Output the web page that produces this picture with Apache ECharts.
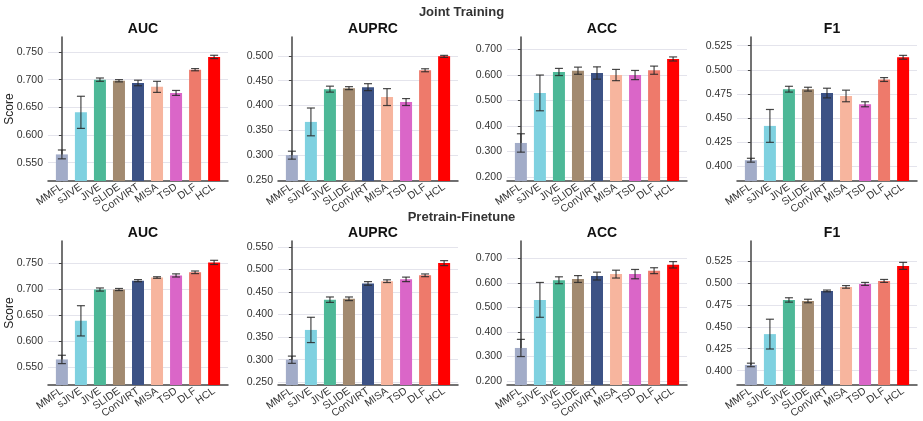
<!DOCTYPE html>
<html>
<head>
<meta charset="utf-8">
<script src="https://cdn.jsdelivr.net/npm/echarts@6/dist/echarts.min.js"></script>
<style>
  html, body { margin: 0; padding: 0; background: #fff; }
  #main { width: 923px; height: 421px; }
</style>
</head>
<body>
<div id="main"></div>
<script>
// methods and colours
const methods = ['MMFL', 'sJIVE', 'JIVE', 'SLIDE', 'ConVIRT', 'MISA', 'TSD', 'DLF', 'HCL'];
const barColors = ['#a2acc8', '#7fd1e0', '#4db897', '#a28a70', '#3c5285', '#f7b59e', '#da66c8', '#ee7a6b', '#ff0000'];

// Joint Training
const jtAUC = [0.565, 0.641, 0.700, 0.698, 0.694, 0.687, 0.676, 0.718, 0.741];
const jtAUCErr = [0.008, 0.029, 0.003, 0.002, 0.005, 0.010, 0.0045, 0.002, 0.003];
const jtAUPRC = [0.300, 0.367, 0.433, 0.435, 0.437, 0.417, 0.407, 0.471, 0.499];
const jtAUPRCErr = [0.008, 0.028, 0.006, 0.003, 0.007, 0.017, 0.007, 0.003, 0.002];
const jtACC = [0.333, 0.529, 0.611, 0.616, 0.607, 0.599, 0.599, 0.618, 0.662];
const jtACCErr = [0.036, 0.070, 0.014, 0.014, 0.024, 0.022, 0.018, 0.016, 0.008];
const jtF1 = [0.4065, 0.442, 0.480, 0.480, 0.476, 0.473, 0.4644, 0.490, 0.513];
const jtF1Err = [0.002, 0.017, 0.003, 0.002, 0.005, 0.006, 0.0026, 0.002, 0.002];

// Pretrain-Finetune
const pfAUC = [0.565, 0.639, 0.699, 0.699, 0.716, 0.722, 0.726, 0.732, 0.751];
const pfAUCErr = [0.008, 0.029, 0.003, 0.002, 0.002, 0.0015, 0.003, 0.0025, 0.004];
const pfAUPRC = [0.300, 0.366, 0.433, 0.435, 0.469, 0.474, 0.478, 0.487, 0.514];
const pfAUPRCErr = [0.008, 0.028, 0.006, 0.004, 0.004, 0.003, 0.005, 0.003, 0.0055];
const pfACC = [0.335, 0.531, 0.611, 0.616, 0.628, 0.636, 0.636, 0.650, 0.674];
const pfACCErr = [0.035, 0.071, 0.014, 0.014, 0.016, 0.016, 0.019, 0.012, 0.013];
const pfF1 = [0.4065, 0.4417, 0.4807, 0.4795, 0.491, 0.4956, 0.499, 0.5024, 0.5196];
const pfF1Err = [0.002, 0.017, 0.0025, 0.002, 0.001, 0.0015, 0.0017, 0.0017, 0.004];

// tick labels
const ticksAUC = [0.55, 0.60, 0.65, 0.70, 0.75];
const ticksAUPRCTop = [0.25, 0.30, 0.35, 0.40, 0.45, 0.50];
const ticksAUPRCBot = [0.25, 0.30, 0.35, 0.40, 0.45, 0.50, 0.55];
const ticksACC = [0.2, 0.3, 0.4, 0.5, 0.6, 0.7];
const ticksF1 = [0.400, 0.425, 0.450, 0.475, 0.500, 0.525];

const FONT = 'Liberation Sans, Arial, sans-serif';

// panel list: title, values, errors, y range, ticks, row, col
const panels = [
  {title: 'AUC', v: jtAUC, e: jtAUCErr, min: 0.517, max: 0.777, ticks: ticksAUC, row: 0, col: 0},
  {title: 'AUPRC', v: jtAUPRC, e: jtAUPRCErr, min: 0.248, max: 0.538, ticks: ticksAUPRCTop, row: 0, col: 1},
  {title: 'ACC', v: jtACC, e: jtACCErr, min: 0.184, max: 0.748, ticks: ticksACC, row: 0, col: 2},
  {title: 'F1', v: jtF1, e: jtF1Err, min: 0.385, max: 0.534, ticks: ticksF1, row: 0, col: 3},
  {title: 'AUC', v: pfAUC, e: pfAUCErr, min: 0.516, max: 0.792, ticks: ticksAUC, row: 1, col: 0},
  {title: 'AUPRC', v: pfAUPRC, e: pfAUPRCErr, min: 0.244, max: 0.563, ticks: ticksAUPRCBot, row: 1, col: 1},
  {title: 'ACC', v: pfACC, e: pfACCErr, min: 0.184, max: 0.771, ticks: ticksACC, row: 1, col: 2},
  {title: 'F1', v: pfF1, e: pfF1Err, min: 0.3836, max: 0.548, ticks: ticksF1, row: 1, col: 3}
];

const colLeft = [48, 278, 507, 737];
const rowTop = [37, 241];
const plotW = 180, plotH = 144;
const catIdx = methods.map((m, i) => i);

let chart = echarts.init(document.getElementById('main'), null, {renderer: 'canvas'});

let grids = [], xAxes = [], yAxes = [], series = [], titles = [];

titles.push({
  text: 'Joint Training', left: 'center', top: 1,
  textStyle: {fontFamily: FONT, fontSize: 13, fontWeight: 'bold', color: '#333'}
});
titles.push({
  text: 'Pretrain-Finetune', left: 'center', top: 206,
  textStyle: {fontFamily: FONT, fontSize: 13, fontWeight: 'bold', color: '#333'}
});

panels.forEach(function(p, k){
  let left = colLeft[p.col], top = rowTop[p.row];
  grids.push({left: left, top: top, width: plotW, height: plotH, containLabel: false});
  titles.push({
    text: p.title, left: left + plotW / 2, top: top - 20, textAlign: 'center',
    textStyle: {fontFamily: FONT, fontSize: 14, fontWeight: 'bold', color: '#111'}
  });
  xAxes.push({
    gridIndex: k, type: 'value', min: -0.73, max: 8.73,
    axisLine: {show: true, lineStyle: {color: '#444', width: 1.5}},
    axisTick: {show: false},
    splitLine: {show: false},
    axisLabel: {
      customValues: catIdx, rotate: 35, margin: 5,
      fontFamily: FONT, fontSize: 10.5, color: '#333',
      formatter: function(v){ return methods[Math.round(v)] || ''; }
    }
  });
  yAxes.push({
    gridIndex: k, type: 'value', min: p.min, max: p.max,
    name: p.col === 0 ? 'Score' : '', nameLocation: 'middle', nameGap: 32,
    nameMoveOverlap: false,
    nameTextStyle: {fontFamily: FONT, fontSize: 12, color: '#222'},
    axisLine: {show: true, lineStyle: {color: '#444', width: 1.5}},
    axisTick: {show: true, customValues: p.ticks, length: 3, lineStyle: {color: '#444'}},
    splitLine: {show: true, lineStyle: {color: '#e4e4ec', width: 1}},
    axisLabel: {
      customValues: p.ticks, margin: 5,
      fontFamily: FONT, fontSize: 10.5, color: '#333',
      formatter: function(v){ return v.toFixed(3); }
    }
  });
  series.push({
    type: 'bar', xAxisIndex: k, yAxisIndex: k, barWidth: 12,
    data: p.v.map(function(val, i){
      return {value: [i, val], itemStyle: {color: barColors[i]}};
    }),
    silent: true, animation: false
  });
  series.push({
    type: 'custom', xAxisIndex: k, yAxisIndex: k, silent: true, animation: false, z: 5,
    data: p.v.map(function(val, i){ return [i, val - p.e[i], val + p.e[i]]; }),
    renderItem: function(params, api){
      let lo = api.coord([api.value(0), api.value(1)]);
      let hi = api.coord([api.value(0), api.value(2)]);
      let cap = 4;
      let style = {stroke: 'rgba(40,40,40,0.85)', lineWidth: 1.2};
      return {
        type: 'group',
        children: [
          {type: 'line', shape: {x1: lo[0], y1: lo[1], x2: hi[0], y2: hi[1]}, style: style},
          {type: 'line', shape: {x1: lo[0] - cap, y1: lo[1], x2: lo[0] + cap, y2: lo[1]}, style: style},
          {type: 'line', shape: {x1: hi[0] - cap, y1: hi[1], x2: hi[0] + cap, y2: hi[1]}, style: style}
        ]
      };
    }
  });
});

chart.setOption({
  backgroundColor: '#fff',
  animation: false,
  title: titles,
  grid: grids,
  xAxis: xAxes,
  yAxis: yAxes,
  series: series
});
</script>
</body>
</html>
